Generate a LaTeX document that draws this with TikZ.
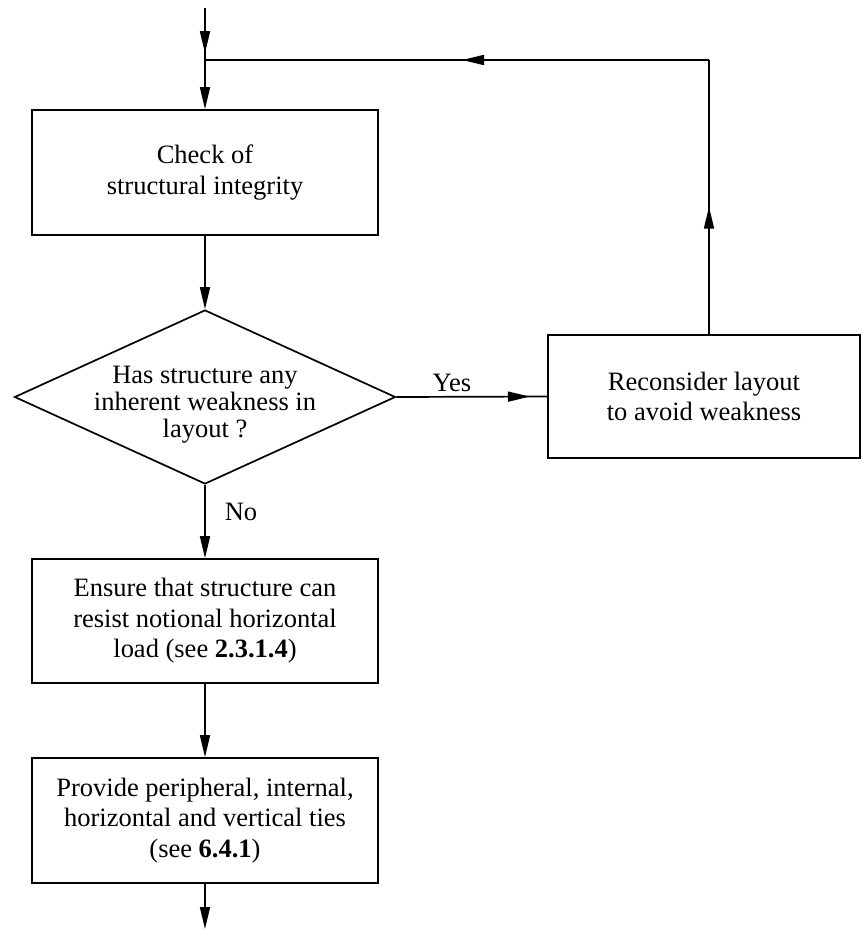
\documentclass[tikz,border=0pt]{standalone}
\usepackage{fontspec}
\setmainfont{Liberation Serif}
\usetikzlibrary{arrows.meta,shapes.geometric,decorations.markings}
\tikzset{
  conn/.style={line width=1.7pt},
  tip/.style={-{Triangle[length=22pt,width=10pt]}},
  marrow/.style={decoration={markings,mark=at position #1 with {\arrow{Triangle[length=22pt,width=10pt]}}},postaction={decorate}},
  box/.style={draw,line width=1.7pt,minimum width=346pt,inner sep=0pt,align=center},
  decision/.style={draw,line width=1.7pt,diamond,minimum width=381pt,minimum height=174pt,inner sep=0pt},
  txt/.style={align=center,inner sep=0pt}
}
\begin{document}
\begin{tikzpicture}[x=1pt,y=-1pt,font=\fontsize{26.5}{30.5}\selectfont]
\useasboundingbox (0,0) rectangle (862,930);
\node[box,minimum height=125pt] (b1) at (205,172.5) {Check of\\structural integrity};
\node[decision] (dec) at (205,397) {};
\node[txt,font=\fontsize{26.5}{27}\selectfont] (dect) at (205,405) {Has structure any\\inherent weakness in\\layout ?};
\node[box,minimum width=312pt,minimum height=123pt] (rec) at (704,396.5) {Reconsider layout\\to avoid weakness};
\node[box,minimum height=124pt] (b3) at (205,621) {Ensure that structure can\\resist notional horizontal\\load (see \textbf{2.3.1.4})};
\node[box,minimum height=125pt] (b4) at (205,820.5) {Provide peripheral, internal,\\horizontal and vertical ties\\(see \textbf{6.4.1})};
\coordinate (start) at (205,8);
\coordinate (join) at (205,60);
\coordinate (tr) at (709,60);
\coordinate (end) at (205,929);
\draw[conn,marrow=0.87] (start) -- (join);
\draw[conn,tip] (join) -- (b1.north);
\draw[conn,tip] (b1.south) -- (dec.north);
\draw[conn,marrow=0.885] (dec.east) -- (rec.west);
\node[txt] (yes) at (452,383) {Yes};
\draw[conn,marrow=0.465] (rec.north -| tr) -- (tr);
\draw[conn,marrow=0.49] (tr) -- (join);
\draw[conn,tip] (dec.south) -- (b3.north);
\node[txt] (no) at (241,512) {No};
\draw[conn,tip] (b3.south) -- (b4.north);
\draw[conn,tip] (b4.south) -- (end);
\end{tikzpicture}
\end{document}
